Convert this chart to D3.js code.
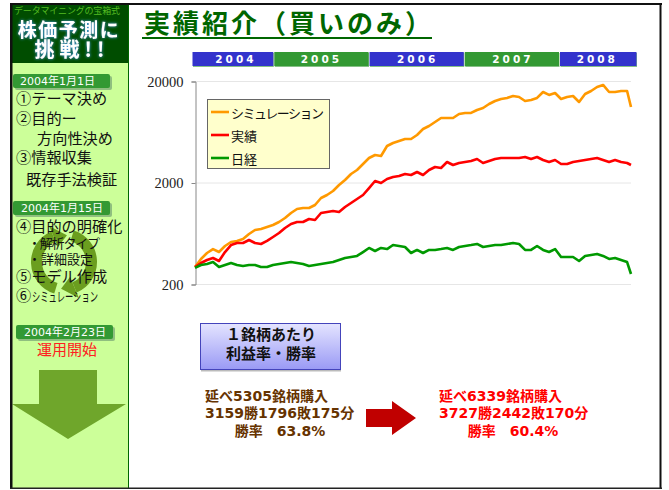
<!DOCTYPE html>
<html>
<head>
<meta charset="utf-8">
<script src="https://cdn.jsdelivr.net/npm/d3@7"></script>
<style>
html, body { margin: 0; padding: 0; background: #fff; overflow: hidden; }
text { font-family: "Noto Sans CJK JP", "Noto Sans", sans-serif; }
</style>
</head>
<body>
<div id="wide"></div>
<script>
// values, one reading about every 23 days
const seriesNames = ["シミュレーション", "実績", "日経"];
const simulation = [294,353,404,442,413,474,519,531,556,622,681,697,729,763,816,894,1001,1097,1122,1122,1201,1407,1506,1648,1888,2115,2426,2656,3044,3488,3735,3650,4580,4903,5128,5368,5368,5881,6736,7211,7893,8648,8648,8648,9468,9686,9686,10367,10850,11880,12711,13306,13615,14244,13923,12711,13009,13615,15585,14577,15243,13306,13923,14244,12427,14900,15943,17463,18280,15585,15585,15943,15943,11096];
const actual = [294,322,345,361,337,413,484,507,507,543,507,496,531,581,636,713,780,816,816,874,854,1001,1024,1048,1024,1147,1256,1375,1506,1764,2068,1977,2165,2265,2318,2426,2371,2538,2371,2656,2843,2780,3184,2976,3114,3184,3257,3409,3114,3257,3409,3488,3488,3488,3488,3568,3409,3568,3332,3184,3332,3044,3044,3184,3257,3332,3409,3488,3332,3184,3332,3184,3114,2976];
const nikkei = [288,308,315,329,294,308,322,308,301,308,308,294,294,308,315,322,329,322,315,301,308,315,322,329,345,361,369,378,413,453,423,453,442,484,474,463,404,433,404,433,433,442,453,433,463,474,484,496,463,474,484,484,496,507,496,433,433,474,433,413,442,369,369,369,337,378,386,395,378,353,361,345,329,251];
const yTicks = [200, 2000, 20000];
const bandYears = [2004, 2005, 2006, 2007, 2008];

const startDate = new Date(2004, 2, 5);
const dates = simulation.map((d, i) => d3.timeDay.offset(startDate, i < 73 ? i * 23 : 1671));

const steps1 = ["①テーマ決め", "②目的ー", "方向性決め", "③情報収集", "既存手法検証"];
const pills = ["2004年1月1日", "2004年1月15日", "2004年2月23日"];
const leftResult = ["延べ5305銘柄購入", "3159勝1796敗175分", "勝率　63.8%"];
const rightResult = ["延べ6339銘柄購入", "3727勝2442敗170分", "勝率　60.4%"];

const wideFont = "'DejaVu Sans', 'Noto Sans CJK JP', sans-serif";

const svg = d3.select("#wide")
    .append("svg")
    .attr("width", 669)
    .attr("height", 490);

const defs = svg.append("defs");

let grad = defs.append("linearGradient")
    .attr("id", "boxfill")
    .attr("x1", 0).attr("y1", 0).attr("x2", 0).attr("y2", 1);
grad.append("stop").attr("offset", "0").attr("stop-color", "#e4e4ff");
grad.append("stop").attr("offset", "1").attr("stop-color", "#9a9af5");

let glow = defs.append("filter").attr("id", "glow")
    .attr("x", "-20%").attr("y", "-20%").attr("width", "140%").attr("height", "140%");
glow.append("feGaussianBlur").attr("in", "SourceAlpha").attr("stdDeviation", 1.6).attr("result", "b");
glow.append("feFlood").attr("flood-color", "#4aa3ff");
glow.append("feComposite").attr("in2", "b").attr("operator", "in").attr("result", "c");
let glowMerge = glow.append("feMerge");
glowMerge.append("feMergeNode").attr("in", "c");
glowMerge.append("feMergeNode").attr("in", "SourceGraphic");

function label(parent, str, x, y, size, color, opts) {
    opts = opts || {};
    return parent.append("text")
        .attr("x", x)
        .attr("y", y)
        .attr("dy", "0.36em")
        .attr("font-size", size)
        .attr("fill", color)
        .attr("font-weight", opts.weight || "normal")
        .attr("text-anchor", opts.anchor || "start")
        .attr("letter-spacing", opts.spacing || 0)
        .text(str);
}

// Sidebar
const side = svg.append("g");
side.append("rect").attr("x", 12).attr("y", 5).attr("width", 116).attr("height", 483).attr("fill", "#ccff99");
side.append("rect").attr("x", 12).attr("y", 5).attr("width", 116).attr("height", 58).attr("fill", "#004d00");
side.append("line").attr("x1", 128.5).attr("x2", 128.5).attr("y1", 5).attr("y2", 488)
    .attr("stroke", "#006600").attr("stroke-width", 1);

label(side, "データマイニングの宝箱式", 14, 11, 9, "#55bb22").attr("textLength", 106);
label(side, "株価予測に", 69, 30, 19, "#fff", { anchor: "middle", spacing: 1.5, weight: "bold" }).attr("filter", "url(#glow)");
label(side, "挑戦!!", 72, 50, 20, "#fff", { anchor: "middle", spacing: 5, weight: "bold" }).attr("filter", "url(#glow)");

function pill(x, y, w, str, textX) {
    side.append("rect").attr("x", x + 2).attr("y", y + 2).attr("width", w).attr("height", 14)
        .attr("rx", 2).attr("fill", "#8fbf7f");
    side.append("rect").attr("x", x).attr("y", y).attr("width", w).attr("height", 14)
        .attr("rx", 2).attr("fill", "#339933");
    label(side, str, textX, y + 7, 11, "#fff").style("font-family", wideFont);
}
pill(13, 74, 97, pills[0], 20);
pill(13, 201, 97, pills[1], 21);
pill(16, 325, 97, pills[2], 24);

// recycle icon behind the second group of steps
const ringColor = "#6b9e1f";
const ring = side.append("g").attr("transform", "translate(64,262)");
const ringArc = d3.arc().innerRadius(22).outerRadius(33);
[0, Math.PI].forEach(turn => {
    ring.append("path")
        .attr("d", ringArc({ startAngle: turn + 0.3, endAngle: turn + 2.75 }))
        .attr("fill", ringColor);
    ring.append("path")
        .attr("d", "M" + d3.pointRadial(turn + 2.75, 16) + "L" + d3.pointRadial(turn + 2.75, 39) + "L" + d3.pointRadial(turn + 3.25, 27) + "Z")
        .attr("fill", ringColor);
});

const stepY = [99, 119, 139, 158, 180];
const stepX = [16, 16, 37, 16, 26];
steps1.forEach((s, i) => label(side, s, stepX[i], stepY[i], 15.2, "#111"));
label(side, "④目的の明確化", 16, 227, 15.2, "#111");
label(side, "・解析タイプ", 28, 243, 13, "#111").attr("textLength", 72);
label(side, "・詳細設定", 28, 259, 13, "#111");
label(side, "⑤モデル作成", 16, 277, 15.2, "#111");
label(side, "⑥", 16, 296, 15.2, "#111");
label(side, "シミュレーション", 32, 296, 13, "#111")
    .attr("textLength", 66).attr("lengthAdjust", "spacingAndGlyphs");
label(side, "運用開始", 67, 350, 15, "#ff2020", { anchor: "middle" });

// big down arrow
side.append("path")
    .attr("d", "M39,370 H97 V404 H126 L68,439 L12,404 H39 Z")
    .attr("fill", "#6fa62b");

// Title
label(svg, "実績紹介（買いのみ）", 144, 24, 26, "#006600", { weight: "bold", spacing: 3 });
svg.append("rect").attr("x", 142).attr("y", 37).attr("width", 290).attr("height", 2).attr("fill", "#006600");

// Scales
const x = d3.scaleTime()
    .domain([startDate, dates[dates.length - 1]])
    .range([195, 631]);

const y = d3.scaleLog()
    .domain([200, 20000])
    .range([284, 81]);

// Year bands along the top, first and last stick out past the plot
const bandEdges = bandYears.map((yr, i) => i == 0 ? 192 : x(new Date(yr, 0, 1)));
bandEdges.push(637);
const bandTextShift = [3, 0, 1, 1, -1];
const bands = svg.append("g").attr("class", "bands");
bandYears.forEach((yr, i) => {
    let x0 = bandEdges[i], x1 = bandEdges[i + 1];
    let c = i % 2 == 0 ? "#3333cc" : "#339933";
    bands.append("rect").attr("x", x0 + 1).attr("y", 53).attr("width", x1 - x0 - 1).attr("height", 14)
        .attr("fill", "#86c086");
    bands.append("rect").attr("x", x0 + 0.5).attr("y", 52).attr("width", x1 - x0 - 1).attr("height", 14)
        .attr("fill", c);
    label(bands, yr, (x0 + x1) / 2 + bandTextShift[i], 59, 10.5, "#fff", { anchor: "middle", weight: "bold", spacing: 3 })
        .style("font-family", wideFont);
});

// Gridlines and axis
svg.append("g")
    .selectAll("line")
    .data(yTicks)
    .enter().append("line")
    .attr("x1", 195)
    .attr("x2", 631)
    .attr("y1", d => y(d) + 0.5)
    .attr("y2", d => y(d) + 0.5)
    .attr("stroke", "#e6e6e6");

const axis = svg.append("g")
    .attr("transform", "translate(195.5,0.5)")
    .call(d3.axisLeft(y).tickValues(yTicks).tickFormat(d3.format("d")).tickSize(4).tickPadding(8));
axis.select(".domain").attr("stroke", "#888");
axis.selectAll(".tick line").attr("stroke", "#888");
axis.selectAll(".tick text")
    .style("font-family", "'Liberation Serif', serif")
    .attr("font-size", 14.5)
    .attr("fill", "#222");

// Lines
const line = d3.line()
    .x((d, i) => x(dates[i]))
    .y(d => y(d));

const lineColors = ["#ff9900", "#ff0000", "#009900"];
[simulation, actual, nikkei].forEach((s, i) => {
    svg.append("path")
        .datum(s)
        .attr("fill", "none")
        .attr("stroke", lineColors[i])
        .attr("stroke-width", 2.6)
        .attr("stroke-linejoin", "round")
        .attr("d", line);
});

// Legend
const legend = svg.append("g");
legend.append("rect")
    .attr("x", 207.5).attr("y", 99.5).attr("width", 122).attr("height", 69)
    .attr("fill", "#ffffcc").attr("stroke", "#666");
seriesNames.forEach((n, i) => {
    let ly = 112 + i * 23;
    legend.append("line").attr("x1", 211).attr("x2", 229).attr("y1", ly).attr("y2", ly)
        .attr("stroke", lineColors[i]).attr("stroke-width", 2.6);
    let t = label(legend, n, 231, ly + 1, 13, "#111");
    if (i == 0) t.attr("textLength", 93);
});

// Box with caption
svg.append("rect").attr("x", 200.5).attr("y", 323.5).attr("width", 140).attr("height", 46)
    .attr("fill", "url(#boxfill)").attr("stroke", "#4444bb");
svg.append("rect").attr("x", 201).attr("y", 370).attr("width", 140).attr("height", 1.5).attr("fill", "#bbb");
label(svg, "１銘柄あたり", 271, 335, 15, "#111", { anchor: "middle", weight: "bold" });
label(svg, "利益率・勝率", 271, 354, 15, "#111", { anchor: "middle", weight: "bold" });

// Results
const brown = "#663300";
[leftResult, rightResult].forEach((lines, k) => {
    let c = k == 0 ? brown : "#ff0000";
    let lx = k == 0 ? 205 : 439;
    let mid = k == 0 ? 280 : 513;
    label(svg, lines[0], lx, 396, 14, c, { weight: "bold" }).style("font-family", wideFont);
    label(svg, lines[1], lx, 413, 14, c, { weight: "bold" }).style("font-family", wideFont);
    label(svg, lines[2], mid, 431, 14, c, { weight: "bold", anchor: "middle" }).style("font-family", wideFont);
});

svg.append("path")
    .attr("d", "M366,409 H392 V401 L416,418 L392,435 V427 H366 Z")
    .attr("fill", "#c00000");

// Outer frame
svg.append("rect").attr("x", 10).attr("y", 3).attr("width", 2.5).attr("height", 486).attr("fill", "#111");
svg.append("rect").attr("x", 10).attr("y", 3).attr("width", 652).attr("height", 2).attr("fill", "#111");
svg.append("rect").attr("x", 659.5).attr("y", 3).attr("width", 2).attr("height", 486).attr("fill", "#111");
svg.append("rect").attr("x", 10).attr("y", 487.5).attr("width", 652).attr("height", 1.5).attr("fill", "#222");
</script>
</body>
</html>
